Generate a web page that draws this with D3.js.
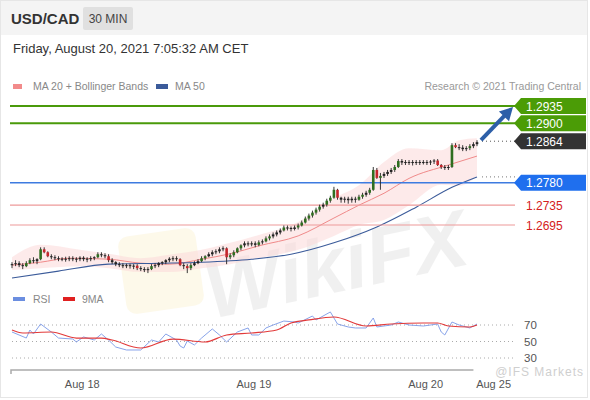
<!DOCTYPE html>
<html>
<head>
<meta charset="utf-8">
<script src="https://cdn.jsdelivr.net/npm/d3@7"></script>
<style>
  body { margin: 0; background: #fff; }
  svg { font-family: "Liberation Sans", Arial, sans-serif; display: block; }
</style>
</head>
<body>
<div id="chart"></div>
<script>
// candles [open, high, low, close], 30 min, oldest first
const candles = [
  [1.2614,1.2620,1.2608,1.2616],[1.2616,1.2624,1.2612,1.2618],[1.2618,1.2622,1.2610,1.2614],[1.2614,1.2618,1.2606,1.2612],
  [1.2612,1.2622,1.2610,1.2618],[1.2618,1.2628,1.2616,1.2624],[1.2624,1.2630,1.2618,1.2622],[1.2622,1.2628,1.2616,1.2626],
  [1.2626,1.2650,1.2624,1.2646],[1.2646,1.2650,1.2638,1.2640],[1.2640,1.2642,1.2630,1.2632],[1.2632,1.2636,1.2626,1.2630],
  [1.2630,1.2634,1.2624,1.2628],[1.2628,1.2632,1.2622,1.2626],[1.2626,1.2630,1.2622,1.2627],[1.2627,1.2631,1.2621,1.2626],
  [1.2626,1.2632,1.2622,1.2628],[1.2628,1.2632,1.2622,1.2627],[1.2627,1.2630,1.2620,1.2626],[1.2626,1.2632,1.2622,1.2629],
  [1.2629,1.2632,1.2622,1.2626],[1.2626,1.2630,1.2620,1.2627],[1.2627,1.2632,1.2622,1.2628],[1.2628,1.2632,1.2624,1.2630],
  [1.2630,1.2640,1.2628,1.2636],[1.2636,1.2640,1.2630,1.2634],[1.2634,1.2638,1.2628,1.2632],[1.2632,1.2636,1.2620,1.2624],
  [1.2624,1.2628,1.2616,1.2620],[1.2620,1.2622,1.2612,1.2616],[1.2616,1.2620,1.2610,1.2614],[1.2614,1.2618,1.2608,1.2613],
  [1.2613,1.2617,1.2608,1.2614],[1.2614,1.2617,1.2607,1.2612],[1.2612,1.2616,1.2606,1.2613],[1.2613,1.2616,1.2604,1.2608],
  [1.2608,1.2612,1.2602,1.2606],[1.2606,1.2610,1.2600,1.2604],[1.2604,1.2610,1.2598,1.2606],[1.2606,1.2616,1.2604,1.2612],
  [1.2612,1.2618,1.2608,1.2614],[1.2614,1.2620,1.2610,1.2618],[1.2618,1.2622,1.2614,1.2620],[1.2620,1.2626,1.2616,1.2624],
  [1.2624,1.2630,1.2620,1.2627],[1.2627,1.2632,1.2622,1.2628],[1.2628,1.2632,1.2622,1.2626],[1.2626,1.2628,1.2612,1.2614],
  [1.2614,1.2618,1.2606,1.2612],[1.2612,1.2616,1.2598,1.2608],[1.2608,1.2618,1.2604,1.2614],[1.2614,1.2622,1.2612,1.2618],
  [1.2618,1.2626,1.2616,1.2622],[1.2622,1.2632,1.2620,1.2628],[1.2628,1.2634,1.2624,1.2632],[1.2632,1.2640,1.2630,1.2636],
  [1.2636,1.2644,1.2632,1.2640],[1.2640,1.2646,1.2636,1.2642],[1.2642,1.2650,1.2638,1.2646],[1.2646,1.2652,1.2642,1.2648],
  [1.2648,1.2650,1.2616,1.2630],[1.2630,1.2638,1.2626,1.2634],[1.2634,1.2644,1.2630,1.2640],[1.2640,1.2650,1.2638,1.2648],
  [1.2648,1.2656,1.2644,1.2654],[1.2654,1.2662,1.2650,1.2658],[1.2658,1.2662,1.2652,1.2656],[1.2656,1.2662,1.2652,1.2658],
  [1.2658,1.2662,1.2650,1.2655],[1.2655,1.2664,1.2652,1.2660],[1.2660,1.2666,1.2656,1.2662],[1.2662,1.2672,1.2660,1.2668],
  [1.2668,1.2676,1.2664,1.2672],[1.2672,1.2680,1.2668,1.2676],[1.2676,1.2684,1.2672,1.2680],[1.2680,1.2688,1.2676,1.2684],
  [1.2684,1.2694,1.2682,1.2690],[1.2690,1.2694,1.2684,1.2689],[1.2689,1.2692,1.2682,1.2687],[1.2687,1.2694,1.2684,1.2690],
  [1.2690,1.2698,1.2686,1.2694],[1.2694,1.2704,1.2692,1.2700],[1.2700,1.2712,1.2698,1.2708],[1.2708,1.2718,1.2704,1.2714],
  [1.2714,1.2724,1.2710,1.2720],[1.2720,1.2730,1.2716,1.2726],[1.2726,1.2736,1.2722,1.2732],[1.2732,1.2740,1.2728,1.2736],
  [1.2736,1.2748,1.2732,1.2744],[1.2744,1.2754,1.2740,1.2750],[1.2750,1.2772,1.2748,1.2766],[1.2766,1.2768,1.2746,1.2750],
  [1.2750,1.2752,1.2740,1.2746],[1.2746,1.2752,1.2740,1.2748],[1.2748,1.2752,1.2738,1.2745],[1.2745,1.2752,1.2740,1.2748],
  [1.2748,1.2752,1.2740,1.2746],[1.2746,1.2756,1.2744,1.2752],[1.2752,1.2760,1.2748,1.2756],[1.2756,1.2764,1.2752,1.2760],
  [1.2760,1.2770,1.2756,1.2766],[1.2766,1.2812,1.2764,1.2806],[1.2806,1.2810,1.2788,1.2790],[1.2790,1.2800,1.2766,1.2794],
  [1.2794,1.2802,1.2790,1.2798],[1.2798,1.2806,1.2794,1.2802],[1.2802,1.2810,1.2798,1.2806],[1.2806,1.2816,1.2802,1.2812],
  [1.2812,1.2828,1.2810,1.2824],[1.2824,1.2828,1.2816,1.2821],[1.2821,1.2826,1.2816,1.2822],[1.2822,1.2826,1.2816,1.2820],
  [1.2820,1.2826,1.2815,1.2822],[1.2822,1.2826,1.2816,1.2821],[1.2821,1.2826,1.2816,1.2822],[1.2822,1.2826,1.2817,1.2820],
  [1.2820,1.2826,1.2816,1.2822],[1.2822,1.2826,1.2816,1.2823],[1.2823,1.2828,1.2818,1.2825],[1.2825,1.2828,1.2814,1.2816],
  [1.2816,1.2818,1.2808,1.2812],[1.2812,1.2816,1.2806,1.2810],[1.2810,1.2816,1.2806,1.2812],[1.2812,1.2860,1.2810,1.2856],
  [1.2856,1.2860,1.2850,1.2852],[1.2852,1.2858,1.2846,1.2851],[1.2851,1.2856,1.2844,1.2848],[1.2848,1.2854,1.2844,1.2850],
  [1.2850,1.2858,1.2846,1.2854],[1.2854,1.2862,1.2850,1.2858],[1.2858,1.2866,1.2854,1.2862]
];

// indicators: [candle index, value]
const ma20 = [[0,1.2614],[8,1.2620],[16,1.2628],[27,1.2626],[36,1.2618],[44,1.2616],[53,1.2626],[61,1.2637],[69,1.2653],[80,1.2673],[90,1.2709],[97,1.2735],[104,1.2759],[111,1.2789],[122,1.2816],[130,1.2834]];
const bbUpper = [[0,1.2630],[8,1.2655],[19,1.2645],[27,1.2637],[36,1.2628],[44,1.2635],[53,1.2645],[61,1.2659],[69,1.2675],[80,1.2701],[90,1.2749],[97,1.2775],[104,1.2822],[111,1.2850],[120,1.2846],[125,1.2866],[130,1.2870]];
const bbLower = [[0,1.2604],[8,1.2608],[19,1.2612],[27,1.2608],[36,1.2600],[44,1.2600],[53,1.2608],[61,1.2616],[69,1.2628],[80,1.2645],[90,1.2673],[97,1.2695],[104,1.2705],[111,1.2735],[120,1.2776],[125,1.2774],[130,1.2794]];
const ma50 = [[0,1.2588],[13,1.2602],[27,1.2616],[41,1.2618],[53,1.2620],[67,1.2626],[78,1.2636],[90,1.2659],[102,1.2691],[113,1.2731],[123,1.2771],[130,1.2792]];

const rsi = [[0,61.5],[4,54.2],[5,63.9],[6,59.1],[8,71.2],[11,61.5],[13,54.2],[17,53],[18,49.4],[20,55.5],[23,51.8],[25,59.1],[27,51.8],[29,43.3],[32,39.7],[36,39.7],[39,51.8],[41,49.4],[43,59.1],[46,51.8],[47,44.5],[48,42.1],[49,50.6],[51,45.8],[53,54.2],[56,65.2],[58,57.9],[60,49.4],[63,61.5],[66,66.4],[67,57.9],[69,57.9],[71,66.4],[73,70],[76,74.8],[79,73.6],[80,72.4],[84,80.9],[85,76.1],[89,85.8],[91,71.2],[94,67.6],[96,66.4],[99,66.4],[101,78.5],[102,67.6],[106,70],[108,73.6],[111,70],[115,68.8],[119,71.2],[120,61.5],[121,57.9],[123,73.6],[125,70],[128,66.4],[130,71.2]];
const rsiMa = [[0,63.9],[3,60.3],[11,61.5],[18,54.2],[25,54.2],[28,51.8],[36,42.1],[45,53],[54,49.4],[60,57.9],[67,60.3],[74,63.9],[78,72.4],[83,76.1],[90,79.7],[99,68.8],[106,71.2],[115,72.4],[119,72.4],[122,68.8],[128,67.6],[130,70]];
const rsiLevels = [70, 50, 30];

// price levels on the right
const resistances = [1.2935, 1.2900];
const lastPrice = 1.2864;
const pivot = 1.2780;
const supports = [1.2735, 1.2695];

// x axis labels (candle index of midnight)
const tickIdx = [19.5, 67.5, 115.5, 134.5];
const tickLabels = ["Aug 18", "Aug 19", "Aug 20", "Aug 25"];

const W = 590, H = 400;
const svg = d3.select("#chart").append("svg")
    .attr("width", W).attr("height", H);

// card + header
svg.append("rect").attr("x", 0.5).attr("y", 0.5).attr("width", W - 3).attr("height", H - 3)
    .attr("fill", "#fff").attr("stroke", "#e6e6e6");
svg.append("rect").attr("x", 1).attr("y", 1).attr("width", W - 4).attr("height", 34).attr("fill", "#f4f4f4");
svg.append("text").attr("x", 11).attr("y", 24).attr("font-size", 15).attr("font-weight", "bold")
    .attr("fill", "#333").text("USD/CAD");
svg.append("rect").attr("x", 83).attr("y", 7).attr("width", 50).attr("height", 23).attr("rx", 2).attr("fill", "#e0e0e0");
svg.append("text").attr("x", 108).attr("y", 23).attr("text-anchor", "middle").attr("font-size", 12)
    .attr("fill", "#444").text("30 MIN");
svg.append("text").attr("x", 13).attr("y", 53).attr("font-size", 13).attr("fill", "#333")
    .text("Friday, August 20, 2021 7:05:32 AM CET");

// legends
svg.append("rect").attr("x", 13).attr("y", 84).attr("width", 9).attr("height", 5).attr("fill", "#f28b8b");
svg.append("text").attr("x", 33).attr("y", 90).attr("font-size", 10.5).attr("fill", "#888").text("MA 20 + Bollinger Bands");
svg.append("rect").attr("x", 156).attr("y", 84).attr("width", 12).attr("height", 5).attr("fill", "#3b5b9a");
svg.append("text").attr("x", 175).attr("y", 90).attr("font-size", 10.5).attr("fill", "#888").text("MA 50");
svg.append("text").attr("x", 581).attr("y", 90).attr("text-anchor", "end").attr("font-size", 10.5)
    .attr("fill", "#999").text("Research \u00a9 2021 Trading Central");

svg.append("rect").attr("x", 13).attr("y", 297).attr("width", 12).attr("height", 4).attr("fill", "#6b8ee0");
svg.append("text").attr("x", 33).attr("y", 303).attr("font-size", 10.5).attr("fill", "#888").text("RSI");
svg.append("rect").attr("x", 63).attr("y", 297).attr("width", 12).attr("height", 4).attr("fill", "#e02020");
svg.append("text").attr("x", 82).attr("y", 303).attr("font-size", 10.5).attr("fill", "#888").text("9MA");

// scales
const x = d3.scaleLinear().domain([0, 130]).range([12, 477]);
const y = d3.scaleLinear().domain([supports[1], resistances[0]]).range([225, 106]);
const yr = d3.scaleLinear().domain([30, 70]).range([358, 325]);
const lineX0 = 10, lineX1 = 515;

// watermark
const wm = svg.append("g").attr("opacity", 0.09);
wm.append("rect").attr("x", 122).attr("y", 232).attr("width", 78).attr("height", 78).attr("rx", 10)
    .attr("fill", "#f0c020").attr("transform", "rotate(-8,161,271)");
wm.append("text").attr("x", 335).attr("y", 292).attr("text-anchor", "middle")
    .attr("font-size", 80).attr("font-weight", "bold").attr("font-style", "italic")
    .attr("fill", "#666").attr("transform", "rotate(-12,335,260)").text("WikiFX");

// bollinger band
const band = d3.area().curve(d3.curveMonotoneX)
    .x(d => x(d[0])).y0(d => y(d[2])).y1(d => y(d[1]));
svg.append("path")
    .datum(bbUpper.map((d, i) => [d[0], d[1], bbLower[i][1]]))
    .attr("d", band).attr("fill", "#fcd9d9").attr("opacity", 0.55);

const line = d3.line().curve(d3.curveMonotoneX).x(d => x(d[0])).y(d => y(d[1]));
svg.append("path").datum(ma20).attr("d", line).attr("fill", "none").attr("stroke", "#f08a8a").attr("stroke-width", 1);
svg.append("path").datum(ma50).attr("d", line).attr("fill", "none").attr("stroke", "#3b5b9a").attr("stroke-width", 1.1);

// level lines
resistances.forEach(p => {
  svg.append("line").attr("x1", lineX0).attr("x2", lineX1).attr("y1", y(p)).attr("y2", y(p))
      .attr("stroke", "#4a9a0a").attr("stroke-width", 2);
});
svg.append("line").attr("x1", lineX0).attr("x2", lineX1).attr("y1", y(pivot)).attr("y2", y(pivot))
    .attr("stroke", "#3d7be0").attr("stroke-width", 1.5);
supports.forEach(p => {
  svg.append("line").attr("x1", lineX0).attr("x2", lineX1).attr("y1", y(p)).attr("y2", y(p))
      .attr("stroke", "#ee9a9a").attr("stroke-width", 1.2);
});

// dotted extensions of last price and MA50
svg.append("line").attr("x1", x(130) + 5).attr("x2", lineX1).attr("y1", y(lastPrice)).attr("y2", y(lastPrice))
    .attr("stroke", "#555").attr("stroke-dasharray", "1,3");
svg.append("line").attr("x1", x(130) + 5).attr("x2", lineX1)
    .attr("y1", y(ma50[ma50.length - 1][1])).attr("y2", y(ma50[ma50.length - 1][1]))
    .attr("stroke", "#777").attr("stroke-dasharray", "1,3");

// candles
const cw = 2.6;
const cg = svg.append("g");
cg.selectAll("line").data(candles).join("line")
    .attr("x1", (d, i) => x(i)).attr("x2", (d, i) => x(i))
    .attr("y1", d => y(d[1])).attr("y2", d => y(d[2]))
    .attr("stroke", "#222").attr("stroke-width", 0.9);
cg.selectAll("rect").data(candles).join("rect")
    .attr("x", (d, i) => x(i) - cw / 2)
    .attr("y", d => y(Math.max(d[0], d[3])))
    .attr("width", cw)
    .attr("height", d => Math.max(1, Math.abs(y(d[0]) - y(d[3]))))
    .attr("fill", d => Math.abs(d[3] - d[0]) < 0.0004 ? "#222" : (d[3] > d[0] ? "#2f6e20" : "#c4262c"));

// arrow
const ax0 = x(130) + 4, ay0 = y(lastPrice) - 1, ax1 = lineX1 - 2, ay1 = y(resistances[0]) + 1;
const ang = Math.atan2(ay1 - ay0, ax1 - ax0);
svg.append("line").attr("x1", ax0).attr("y1", ay0)
    .attr("x2", ax1 - 9 * Math.cos(ang)).attr("y2", ay1 - 9 * Math.sin(ang))
    .attr("stroke", "#2d5fa8").attr("stroke-width", 4);
svg.append("path")
    .attr("d", `M${ax1},${ay1} L${ax1 - 13 * Math.cos(ang) + 7 * Math.sin(ang)},${ay1 - 13 * Math.sin(ang) - 7 * Math.cos(ang)} L${ax1 - 13 * Math.cos(ang) - 7 * Math.sin(ang)},${ay1 - 13 * Math.sin(ang) + 7 * Math.cos(ang)} Z`)
    .attr("fill", "#2d5fa8");

// right labels
function tag(p, fill) {
  const yc = y(p), x0 = 514;
  svg.append("path")
      .attr("d", `M${x0},${yc} L${x0 + 7},${yc - 8} L${x0 + 72},${yc - 8} L${x0 + 72},${yc + 8} L${x0 + 7},${yc + 8} Z`)
      .attr("fill", fill);
  svg.append("text").attr("x", x0 + 12).attr("y", yc + 4.5).attr("font-size", 12)
      .attr("fill", "#fff").text(d3.format(".4f")(p));
}
resistances.forEach(p => tag(p, "#4b9c06"));
tag(lastPrice, "#333");
tag(pivot, "#1f6fee");
supports.forEach(p => {
  svg.append("text").attr("x", 526).attr("y", y(p) + 4.5).attr("font-size", 12)
      .attr("fill", "#d42020").text(d3.format(".4f")(p));
});

// RSI pane
rsiLevels.forEach(r => {
  svg.append("line").attr("x1", 12).attr("x2", lineX1).attr("y1", yr(r)).attr("y2", yr(r))
      .attr("stroke", "#aaa").attr("stroke-dasharray", "1,3");
  svg.append("text").attr("x", 524).attr("y", yr(r) + 4).attr("font-size", 11.5)
      .attr("fill", "#555").text(r);
});
const rline = d3.line().x(d => x(d[0])).y(d => yr(d[1]));
svg.append("path").datum(rsi).attr("d", rline).attr("fill", "none").attr("stroke", "#7b98e6").attr("stroke-width", 0.9);
svg.append("path").datum(rsiMa).attr("d", rline.curve(d3.curveMonotoneX)).attr("fill", "none")
    .attr("stroke", "#e23a3a").attr("stroke-width", 1.2);

// x axis
const axisG = svg.append("g").attr("transform", "translate(0,370)")
    .call(d3.axisBottom(x).tickValues(tickIdx).tickSize(0).tickPadding(10.5)
        .tickFormat((d, i) => tickLabels[i]));
axisG.select(".domain").remove();
axisG.selectAll("text").attr("font-size", 11).attr("fill", "#555")
    .attr("font-family", "Liberation Sans, Arial, sans-serif");
axisG.append("path").attr("d", `M${x(0) - 1},4 V0 H${x(129)}`)
    .attr("fill", "none").attr("stroke", "#aaa").attr("stroke-width", 1.5);

svg.append("text").attr("x", 584).attr("y", 375.5).attr("text-anchor", "end").attr("font-size", 12)
    .attr("letter-spacing", 1).attr("fill", "#bbb").attr("opacity", 0.7).text("@IFS Markets");
</script>
</body>
</html>
